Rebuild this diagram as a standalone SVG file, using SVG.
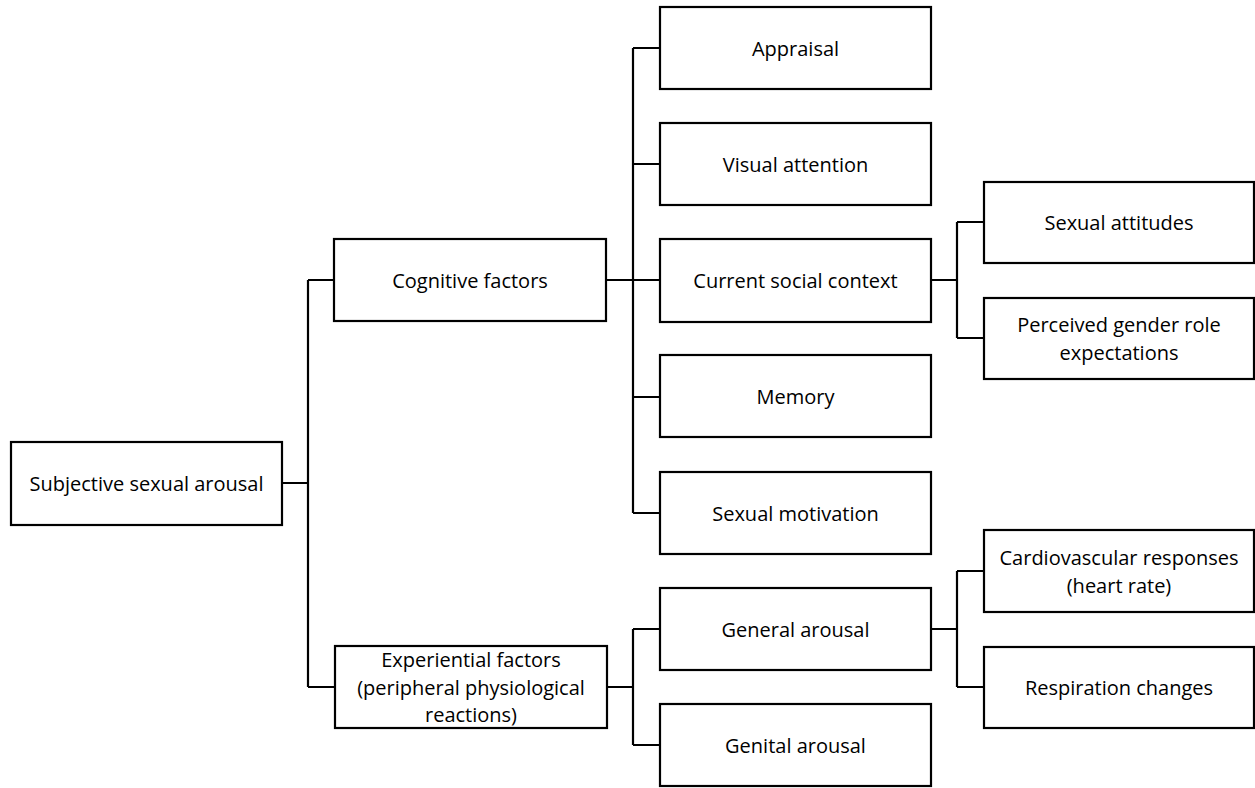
<svg xmlns="http://www.w3.org/2000/svg" width="1255" height="788" viewBox="0 0 1255 788">
<style>
.box{fill:#fff;stroke:#000;stroke-width:2.2}
.t{font-family:"Open Sans","Liberation Sans",sans-serif;font-size:20px;fill:#000;text-anchor:middle;dominant-baseline:central}
.c{fill:none;stroke:#000;stroke-width:2.2}
</style>
<rect width="1255" height="788" fill="#fff"/>
<g id="connectors">
<path class="c" d="M282 483H308M308 280V687M308 280H334M308 687H335"/>
<path class="c" d="M606 280H633M633 48V513M633 48H660M633 164H660M633 280H660M633 397H660M633 513H660"/>
<path class="c" d="M931 280H957M957 222V338M957 222H984M957 338H984"/>
<path class="c" d="M607 687H633M633 629V745M633 629H660M633 745H660"/>
<path class="c" d="M931 629H957M957 571V687M957 571H984M957 687H984"/>
</g>
<g id="subjective"><rect class="box" x="11" y="442" width="271" height="83"/><text class="t" x="146.5" y="483">Subjective sexual arousal</text></g>
<g id="cognitive"><rect class="box" x="334" y="239" width="272" height="82"/><text class="t" x="470" y="280">Cognitive factors</text></g>
<g id="experiential"><rect class="box" x="335" y="646" width="272" height="82"/><text class="t" x="471" y="659.5">Experiential factors</text><text class="t" x="471" y="687">(peripheral physiological</text><text class="t" x="471" y="714.5">reactions)</text></g>
<g id="appraisal"><rect class="box" x="660" y="7" width="271" height="82"/><text class="t" x="795.5" y="48">Appraisal</text></g>
<g id="visual"><rect class="box" x="660" y="123" width="271" height="82"/><text class="t" x="795.5" y="164">Visual attention</text></g>
<g id="social"><rect class="box" x="660" y="239" width="271" height="83"/><text class="t" x="795.5" y="280">Current social context</text></g>
<g id="memory"><rect class="box" x="660" y="355" width="271" height="82"/><text class="t" x="795.5" y="396">Memory</text></g>
<g id="motivation"><rect class="box" x="660" y="472" width="271" height="82"/><text class="t" x="795.5" y="513">Sexual motivation</text></g>
<g id="general"><rect class="box" x="660" y="588" width="271" height="82"/><text class="t" x="795.5" y="629">General arousal</text></g>
<g id="genital"><rect class="box" x="660" y="704" width="271" height="82"/><text class="t" x="795.5" y="745">Genital arousal</text></g>
<g id="attitudes"><rect class="box" x="984" y="182" width="270" height="81"/><text class="t" x="1119" y="222">Sexual attitudes</text></g>
<g id="gender"><rect class="box" x="984" y="298" width="270" height="81"/><text class="t" x="1119" y="324.5">Perceived gender role</text><text class="t" x="1119" y="352">expectations</text></g>
<g id="cardio"><rect class="box" x="984" y="530" width="270" height="82"/><text class="t" x="1119" y="557.5">Cardiovascular responses</text><text class="t" x="1119" y="585">(heart rate)</text></g>
<g id="respiration"><rect class="box" x="984" y="647" width="270" height="81"/><text class="t" x="1119" y="687">Respiration changes</text></g>
</svg>
